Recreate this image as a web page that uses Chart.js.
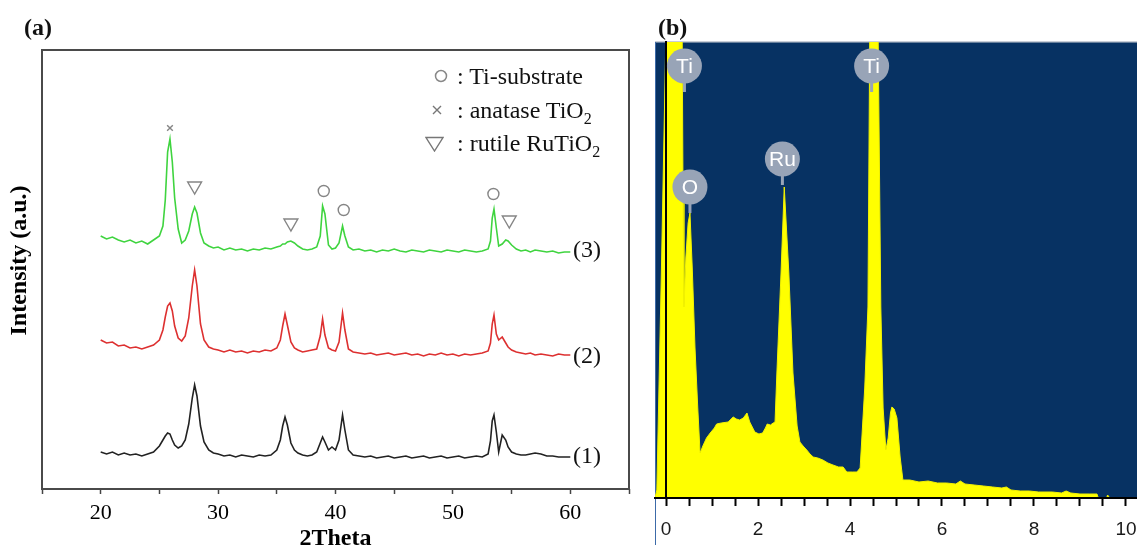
<!DOCTYPE html>
<html>
<head>
<meta charset="utf-8">
<script src="https://cdn.jsdelivr.net/npm/chart.js@4.4.1/dist/chart.umd.min.js"></script>
<style>
  html, body { margin: 0; padding: 0; background: #fff; }
  #wrap { position: relative; width: 1137px; height: 549px; overflow: hidden;
          font-family: "Liberation Serif", "Times New Roman", serif; }
  canvas { position: absolute; top: 0; }
  #xrd { left: 0; }
  #eds { left: 640px; }
  .lbl { position: absolute; white-space: nowrap; font-size: 24px; line-height: 24px; color: #111; }
  .bold { font-weight: bold; }
  .sym { position: absolute; }
  sub { font-size: 16px; line-height: 0; vertical-align: -6px; }
</style>
</head>
<body>
<div id="wrap">
  <canvas id="xrd" width="640" height="549"></canvas>
  <canvas id="eds" width="497" height="549"></canvas>

  <div class="lbl bold" style="left:24px;top:15px;">(a)</div>
  <div class="lbl bold" style="left:658px;top:15px;">(b)</div>

  <!-- legend panel (a) -->
  <svg class="sym" style="left:434px;top:69px;" width="14" height="14"><circle cx="7" cy="7" r="5.5" fill="none" stroke="#888" stroke-width="1.5"/></svg>
  <div class="lbl" style="left:457px;top:64px;">: Ti-substrate</div>
  <svg class="sym" style="left:432px;top:105px;" width="10" height="10"><path d="M1 1 L9 9 M9 1 L1 9" stroke="#777" stroke-width="1.4"/></svg>
  <div class="lbl" style="left:457px;top:98px;">: anatase TiO<sub>2</sub></div>
  <svg class="sym" style="left:425px;top:136px;" width="19" height="16"><path d="M1 1.5 L18 1.5 L9.5 15 Z" fill="none" stroke="#777" stroke-width="1.4"/></svg>
  <div class="lbl" style="left:457px;top:131px;">: rutile RuTiO<sub>2</sub></div>

  <div class="lbl" style="left:573px;top:237px;">(3)</div>
  <div class="lbl" style="left:573px;top:343px;">(2)</div>
  <div class="lbl" style="left:573px;top:443px;">(1)</div>
</div>

<script>
// ---- (a) XRD patterns, 2theta in degrees, intensity in arbitrary units (offset per sample)
var thetaDeg = [20, 20.5, 21, 21.5, 22, 22.5, 23, 23.5, 24, 24.5,
  25, 25.3, 25.5, 25.7, 25.9, 26.1, 26.3, 26.6, 26.9, 27.2,
  27.5, 27.8, 28.0, 28.2, 28.5, 28.8, 29.2, 29.6, 30, 30.5,
  31, 31.5, 32, 32.5, 33, 33.5, 34, 34.5, 35, 35.3,
  35.5, 35.7, 35.9, 36.2, 36.5, 36.8, 37.2, 37.6, 38, 38.4,
  38.7, 38.9, 39.1, 39.4, 39.7, 40.0, 40.3, 40.6, 40.8, 41.1,
  41.5, 42, 42.5, 43, 43.5, 44, 44.5, 45, 45.5, 46,
  46.5, 47, 47.5, 48, 48.5, 49, 49.5, 50, 50.5, 51,
  51.5, 52, 52.5, 53, 53.2, 53.35, 53.5, 53.7, 53.9, 54.2,
  54.5, 54.7, 55, 55.4, 55.8, 56.2, 56.6, 57, 57.5, 58,
  58.5, 59, 59.5, 60];

var sample3 = [253, 250, 252, 249, 247, 249, 246, 248, 245, 249,
  253, 263, 289, 337, 350, 327, 291, 260, 246, 249,
  258, 275, 282, 276, 256, 246, 243, 241, 242, 239,
  241, 239, 240, 238, 240, 239, 241, 240, 242, 243,
  245, 245, 247, 248, 246, 243, 240, 239, 240, 242,
  253, 283, 275, 244, 240, 241, 246, 263, 253, 242,
  239, 240, 238, 239, 237, 239, 238, 240, 238, 237,
  239, 238, 237, 239, 238, 237, 239, 238, 237, 239,
  238, 237, 238, 240, 248, 271, 280, 261, 243, 245,
  249, 248, 244, 240, 238, 239, 237, 239, 238, 237,
  238, 236, 237, 237];

var sample2 = [149, 146, 147, 143, 144, 141, 142, 140, 142, 144,
  149, 159, 172, 183, 186, 178, 163, 151, 148, 153,
  171, 203, 219, 203, 165, 149, 142, 140, 139, 137,
  139, 137, 138, 136, 138, 137, 139, 138, 141, 149,
  163, 175, 164, 147, 141, 139, 137, 138, 139, 140,
  153, 170, 154, 141, 139, 138, 147, 176, 159, 140,
  137, 136, 135, 136, 134, 135, 136, 134, 135, 136,
  134, 135, 133, 135, 134, 136, 134, 135, 133, 135,
  134, 135, 136, 138, 146, 165, 174, 155, 149, 152,
  146, 142, 139, 137, 136, 135, 136, 134, 135, 134,
  133, 135, 134, 134];

var sample1 = [37, 35, 37, 34, 36, 34, 35, 33, 35, 37,
  43, 49, 53, 56, 55, 49, 44, 41, 43, 49,
  65, 91, 104, 93, 63, 47, 39, 36, 35, 33,
  34, 32, 34, 33, 32, 34, 33, 34, 39, 49,
  63, 72, 64, 46, 39, 36, 34, 33, 34, 37,
  46, 52, 47, 39, 42, 39, 49, 74, 59, 39,
  34, 33, 32, 33, 31, 32, 33, 31, 32, 33,
  31, 32, 33, 31, 32, 33, 31, 32, 33, 31,
  32, 33, 32, 35, 48, 68, 74, 57, 37, 54,
  49, 42, 37, 35, 34, 34, 35, 36, 35, 33,
  33, 32, 32, 32];

// peak markers on pattern (3)
var tiSubX = [39.0, 40.7, 53.45];
var tiSubY = [298, 279, 295];
var anataseX = [25.9];
var anataseY = [361];
var rutileX = [28.0, 36.2, 54.8];
var rutileY = [303, 266, 269];

var xrdTicks = [20, 30, 40, 50, 60];

// ---- (b) EDS spectrum, energy in keV
var energyKeV = [-0.24, -0.2, -0.1, 0.0, 0.1, 0.2, 0.3, 0.35, 0.37, 0.39,
  0.43, 0.48, 0.52, 0.57, 0.63, 0.69, 0.74, 0.8, 0.88, 0.96,
  1.05, 1.1, 1.2, 1.35, 1.46, 1.53, 1.6, 1.68, 1.76, 1.82,
  1.93, 2.02, 2.1, 2.16, 2.2, 2.27, 2.33, 2.37, 2.41, 2.5,
  2.57, 2.67, 2.76, 2.85, 2.91, 2.98, 3.06, 3.13, 3.2, 3.3,
  3.41, 3.52, 3.63, 3.75, 3.85, 3.93, 4.05, 4.15, 4.22, 4.32,
  4.39, 4.43, 4.61, 4.67, 4.72, 4.78, 4.83, 4.88, 4.91, 4.96,
  5.02, 5.09, 5.15, 5.3, 5.5, 5.7, 5.9, 6.1, 6.3, 6.4,
  6.5, 6.7, 6.9, 7.1, 7.3, 7.4, 7.5, 7.7, 7.9, 8.1,
  8.4, 8.6, 8.7, 8.8, 9.0, 9.2, 9.37, 9.4, 9.58, 9.6,
  9.65, 10.24];

var counts = [0, 8, 230, 470, 470, 470, 470, 470, 300, 191,
  240, 275, 285, 230, 150, 90, 45, 52, 60, 65,
  70, 74, 75, 76, 81, 79, 78, 80, 85, 76,
  66, 64, 65, 70, 74, 73, 75, 76, 125, 225,
  311, 225, 125, 72, 56, 52, 48, 44, 41, 40,
  38, 35, 33, 31, 31, 26, 26, 26, 30, 110,
  191, 470, 470, 191, 90, 48, 60, 85, 91, 89,
  80, 41, 18, 18, 16, 17, 15, 15, 14, 17,
  14, 13, 12, 11, 10, 11, 8, 7, 7, 6,
  6, 5, 7, 5, 4, 4, 4, 0, 0, 3,
  0, 0];

var peakNames = ['Ti', 'O', 'Ru', 'Ti'];
var peakKeV = [0.40, 0.52, 2.53, 4.47];
var peakTop = [406, 285, 313, 406];

var edsTicks = [0, 2, 4, 6, 8, 10];

function pairs(xs, ys) {
  return xs.map(function (v, i) { return { x: v, y: ys[i] }; });
}

// frame round the plot area of (a)
var frameBox = {
  id: 'frameBox',
  afterDraw: function (chart) {
    var a = chart.chartArea, ctx = chart.ctx;
    ctx.save();
    ctx.strokeStyle = '#4a4a4a';
    ctx.lineWidth = 2;
    ctx.strokeRect(a.left, a.top, a.right - a.left, a.bottom - a.top);
    ctx.restore();
  }
};

var lineStyle = { showLine: true, pointRadius: 0, borderWidth: 1.6, tension: 0 };
var markStyle = { borderColor: '#858585', backgroundColor: 'rgba(0,0,0,0)', borderWidth: 1.4 };

new Chart(document.getElementById('xrd'), {
  type: 'scatter',
  data: {
    datasets: [
      Object.assign({ label: '(3)', data: pairs(thetaDeg, sample3), borderColor: '#3fd43f' }, lineStyle),
      Object.assign({ label: '(2)', data: pairs(thetaDeg, sample2), borderColor: '#dd3030' }, lineStyle),
      Object.assign({ label: '(1)', data: pairs(thetaDeg, sample1), borderColor: '#222222' }, lineStyle),
      Object.assign({ label: 'Ti-substrate', data: pairs(tiSubX, tiSubY), pointStyle: 'circle', pointRadius: 5.5 }, markStyle),
      Object.assign({ label: 'anatase TiO2', data: pairs(anataseX, anataseY), pointStyle: 'crossRot', pointRadius: 4 }, markStyle),
      Object.assign({ label: 'rutile RuTiO2', data: pairs(rutileX, rutileY), pointStyle: 'triangle', pointRotation: 180, pointRadius: 8 }, markStyle)
    ]
  },
  options: {
    responsive: false,
    animation: false,
    layout: { padding: { top: 50, right: 11, left: 0, bottom: 0 } },
    plugins: { legend: { display: false }, tooltip: { enabled: false } },
    scales: {
      x: {
        type: 'linear', min: 15, max: 65,
        afterFit: function (s) { s.height = 60; s.paddingLeft = 0; s.paddingRight = 0; },
        ticks: {
          stepSize: 5, autoSkip: false, includeBounds: false, maxRotation: 0, padding: 6,
          color: '#000', font: { family: '"Liberation Serif"', size: 22 },
          callback: function (v) { return xrdTicks.indexOf(v) >= 0 ? v : ''; }
        },
        grid: { drawOnChartArea: false, tickLength: 5, color: '#444', tickWidth: 1.5 },
        border: { display: false },
        title: {
          display: true, text: '2Theta', color: '#000',
          font: { family: '"Liberation Serif"', size: 24, weight: 'bold', lineHeight: 1.2 },
          padding: { top: 0, bottom: -4 }
        }
      },
      y: {
        min: 0, max: 439,
        afterFit: function (s) { s.width = 42; },
        ticks: { display: false },
        grid: { display: false },
        border: { display: false },
        title: {
          display: true, text: '   Intensity (a.u.)', color: '#000',
          font: { family: '"Liberation Serif"', size: 24, weight: 'bold', lineHeight: 1.2 },
          padding: { top: 5, bottom: 0 }
        }
      }
    }
  },
  plugins: [frameBox]
});

// navy background of the spectrum window
var edsWindow = {
  id: 'edsWindow',
  beforeDraw: function (chart) {
    var a = chart.chartArea, ctx = chart.ctx;
    ctx.save();
    ctx.fillStyle = '#073263';
    ctx.fillRect(a.left, a.top, a.right - a.left, a.bottom - a.top);
    ctx.fillStyle = '#c9ced6';
    ctx.fillRect(a.left, a.top - 1, a.right - a.left, 1.5);
    ctx.fillStyle = '#3c6aa8';
    ctx.fillRect(a.left, a.top, 1, chart.height - a.top - 4);
    ctx.restore();
  }
};

// grey element badges above the peaks
var edsBadges = {
  id: 'edsBadges',
  afterDraw: function (chart) {
    var ctx = chart.ctx, xs = chart.scales.x, ys = chart.scales.y;
    ctx.save();
    peakNames.forEach(function (name, i) {
      var px = xs.getPixelForValue(peakKeV[i]);
      var tip = ys.getPixelForValue(peakTop[i]);
      var cy = tip - 26;
      ctx.fillStyle = '#98a4b7';
      ctx.fillRect(px - 1.5, cy, 3, 26);
      ctx.beginPath();
      ctx.arc(px, cy, 17.5, 0, Math.PI * 2);
      ctx.fill();
      ctx.fillStyle = '#ffffff';
      ctx.font = '21px "Liberation Sans", Arial, sans-serif';
      ctx.textAlign = 'center';
      ctx.textBaseline = 'middle';
      ctx.fillText(name, px, cy + 1);
    });
    ctx.restore();
  }
};

new Chart(document.getElementById('eds'), {
  type: 'scatter',
  data: {
    datasets: [{
      label: 'EDS',
      data: pairs(energyKeV, counts),
      showLine: true, pointRadius: 0, tension: 0,
      borderColor: '#f2f200', borderWidth: 1,
      backgroundColor: '#ffff00', fill: 'origin'
    }]
  },
  options: {
    responsive: false,
    animation: false,
    layout: { padding: { top: 42, right: 0, left: 15, bottom: 0 } },
    plugins: { legend: { display: false }, tooltip: { enabled: false } },
    scales: {
      x: {
        type: 'linear', min: -0.24, max: 10.24,
        afterFit: function (s) { s.height = 51; s.paddingLeft = 0; s.paddingRight = 0; },
        ticks: {
          stepSize: 0.5, autoSkip: false, includeBounds: false, maxRotation: 0, padding: 12,
          color: '#1a1a1a', font: { family: '"Liberation Sans"', size: 19 },
          callback: function (v) { return edsTicks.indexOf(v) >= 0 ? v : ''; }
        },
        grid: { drawOnChartArea: false, tickLength: 8, color: '#000', tickWidth: 2 },
        border: { display: true, color: '#000', width: 2, z: 1 }
      },
      y: {
        min: 0, max: 456,
        position: { x: 0 },
        ticks: { display: false },
        grid: { display: false },
        border: { display: true, color: '#000', width: 2, z: 1 }
      }
    }
  },
  plugins: [edsWindow, edsBadges]
});
</script>
</body>
</html>
